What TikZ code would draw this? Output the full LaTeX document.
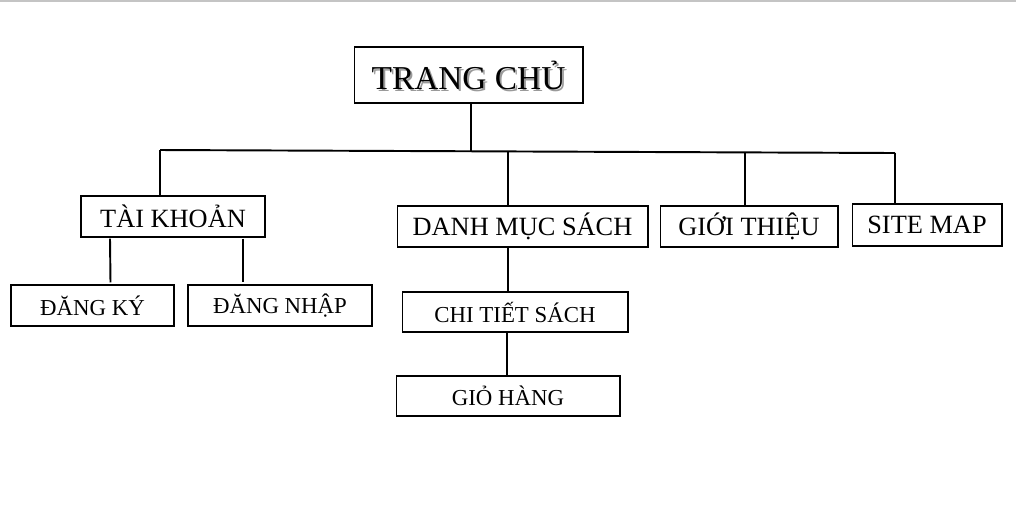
\documentclass[tikz,border=0pt]{standalone}
\usepackage{fontspec}
\setmainfont{Liberation Serif}
\usetikzlibrary{calc,positioning}
\definecolor{EdgeGray}{HTML}{C4C4C4}
\definecolor{ShadowGray}{HTML}{9A9A9A}

\begin{document}
\begin{tikzpicture}[x=0.02cm, y=-0.02cm,
  box/.style={draw=black, line width=0.6pt, inner sep=0pt, align=center},
  link/.style={draw=black, line width=1.1pt}]
  \useasboundingbox (0,0) rectangle (1016,512);
  \draw[EdgeGray, line width=1.2pt] (0,1) -- (1016,1);

  % Root page with its shadowed title.
  \node[text=ShadowGray, font=\fontsize{19}{22}\selectfont] (homeshadow) at (470.5,77) {TRANG CHỦ};
  \node[box, minimum width=4.58cm, minimum height=1.12cm,
    font=\fontsize{19}{22}\selectfont] (home) at (468.5,75) {TRANG CHỦ};

  % First level.
  \node[box, minimum width=3.68cm, minimum height=0.82cm,
    font=\fontsize{15}{18}\selectfont] (account) at (173,216.5) {TÀI KHOẢN};
  \node[box, minimum width=5.02cm, minimum height=0.82cm,
    font=\fontsize{15}{18}\selectfont] (catalog) at (522.5,226.5) {DANH MỤC SÁCH};
  \node[box, minimum width=3.56cm, minimum height=0.82cm,
    font=\fontsize{15}{18}\selectfont] (about) at (749,226.5) {GIỚI THIỆU};
  \node[box, minimum width=3.00cm, minimum height=0.84cm,
    font=\fontsize{15}{18}\selectfont] (sitemap) at (927,225) {SITE MAP};

  % Second and third levels.
  \node[box, minimum width=3.26cm, minimum height=0.82cm,
    font=\fontsize{13}{16}\selectfont] (signup) at (92.5,305.5) {ĐĂNG KÝ};
  \node[box, minimum width=3.68cm, minimum height=0.82cm,
    font=\fontsize{13}{16}\selectfont] (login) at (280,305.5) {ĐĂNG NHẬP};
  \node[box, minimum width=4.52cm, minimum height=0.80cm,
    font=\fontsize{13}{16}\selectfont] (detail) at (515,312) {CHI TIẾT SÁCH};
  \node[box, minimum width=4.48cm, minimum height=0.80cm,
    font=\fontsize{13}{16}\selectfont] (cart) at (508,396) {GIỎ HÀNG};

  % The bus under the root.
  \coordinate (busL) at (160,150);
  \coordinate (busR) at (895,153);
  \coordinate (busHome) at (471,151.5);
  \coordinate (busCatalog) at (508,152);
  \coordinate (busAbout) at (745,152.5);
  \draw[link] (busL) -- (busR);
  \draw[link] (home.south -| busHome) -- (busHome);
  \draw[link] (busL) -- (busL |- account.north);
  \draw[link] (busCatalog) -- (busCatalog |- catalog.north);
  \draw[link] (busAbout) -- (busAbout |- about.north);
  \draw[link] (busR) -- (busR |- sitemap.north);

  % Links below the first level.
  \draw[link] ($(account.south)+(-63,1)$) -- ($(signup.north)+(18,-2)$);
  \draw[link] ($(account.south)+(70,1)$) -- ($(login.north)+(-37,-2)$);
  \draw[link] (catalog.south -| busCatalog) -- (detail.north -| busCatalog);
  \draw[link] ($(detail.south)+(-8,0)$) -- ($(cart.north)+(-1,0)$);
\end{tikzpicture}
\end{document}
